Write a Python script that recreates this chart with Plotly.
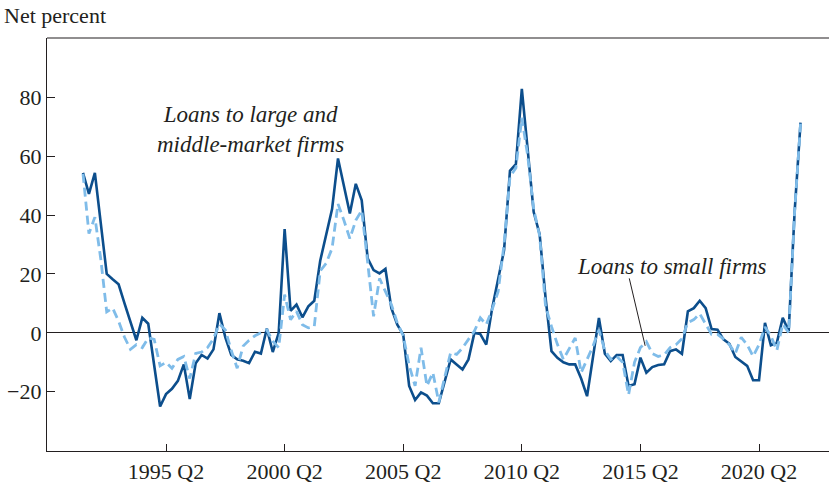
import plotly.graph_objects as go

# ---- data ----
start_year, start_q = 1991, 4
n_points = 122
quarters = []
y_, q_ = start_year, start_q
for _ in range(n_points):
    quarters.append(f"{y_} Q{q_}")
    q_ += 1
    if q_ > 4:
        q_ = 1
        y_ += 1

large_middle = [
    54.3, 47.2, 54.3, 37, 20, 18.2, 16.5, 10, 3.5, -2.5, 5.1, 3.1, -11, -25,
    -20.8, -19, -16.3, -10.7, -22.5, -10.3, -7.5, -8.7, -5.6, 6.7, -1.5, -7.5, -9, -9.5, -10.3, -6.4, -7, 1.5, -6.5, 0,
    35.2, 7.5, 9.6, 5.3, 9.0, 10.9, 24.5, 33, 42, 59.2, 50, 40.5, 50.6, 45, 25.3, 21.3, 20.2, 21.7, 8.4, 2.8,
    -0.6, -18, -22.8, -20.2, -21.3, -23.9, -23.9, -16.9, -9, -10.7, -12.4, -9, 0, -0.4, -4, 8.4, 18, 28, 55, 57.3,
    82.8, 62, 41, 33.5, 12, -6.2, -8.5, -10, -10.7, -10.7, -15.5, -21.5, -8, 5.1, -7.1, -9.6, -7.5, -7.5, -18, -17.4,
    -8.4, -13.5, -11.6, -10.9, -10.7, -6.2, -5.6, -7.1, 7.3, 8.4, 10.9, 8.4, 1.3, 1.1, -2.2, -3.7, -8.2, -9.8, -11.2, -16.1,
    -16.1, 3.4, -4.2, -3.4, 5.1, 0.6, 41, 71.4,
]

small = [
    54, 33.7, 39.3, 25, 7.1, 8.4, 4, -1.5, -5.6, -4, -5, -1.7, -2.2, -11.2,
    -10, -12, -9, -8, -15.5, -7, -6.5, -5, -2, 3, 1, -6, -12, -4.5, -2.5, -1, 0, 1, -2.8, -5,
    13, 4.5, 7.3, 2.8, 1.7, 2.2, 21, 23.6, 28.7, 43.8, 38.2, 32, 38.2, 41.6, 24, 5.6, 18.5, 14, 9.6, 3.4,
    -1, -11, -18, -5, -18, -13.5, -23.6, -15, -6.7, -7.3, -5.1, -2.2, 0.6, 5.1, 2.8, 8, 14, 30, 53, 56,
    73, 60, 42, 33, 9, 2.2, -3.9, -9, -5.6, -1.7, -13.5, -9, -4.5, 1, -6, -9, -8, -10, -21, -10,
    -5, -3, -7, -8, -7.5, -5, -4, -2, 3.5, 4.5, 6.5, 3, -0.5, -0.5, -2, -4, -7, -1.5, -4, -8,
    -4, 2, -1, -6, 3, 0, 41, 71,
]

tick_labels = ["1995 Q2", "2000 Q2", "2005 Q2", "2010 Q2", "2015 Q2", "2020 Q2"]
y_ticks = [-20, 0, 20, 40, 60, 80]


def qpos(label):
    yr, q = label.split(" Q")
    return int(yr) + (int(q) - 1) / 4.0


x = [qpos(q) for q in quarters]
tick_vals = [qpos(t) for t in tick_labels]

DARK = "#0c4e8c"
LIGHT = "#7fbce9"
FONT = "Liberation Serif"
TXT = "#231f20"

fig = go.Figure()
fig.add_trace(go.Scatter(x=x, y=large_middle, mode="lines",
                         line=dict(color=DARK, width=2.6), name="Large and middle-market"))
fig.add_trace(go.Scatter(x=x, y=small, mode="lines",
                         line=dict(color=LIGHT, width=2.8, dash="9px,5px"), name="Small"))

fig.update_layout(
    width=830, height=485,
    margin=dict(l=47, r=1, t=38, b=31),
    paper_bgcolor="white", plot_bgcolor="white",
    showlegend=False,
    font=dict(family=FONT, size=22, color=TXT),
    xaxis=dict(
        range=[1990.232, 2023.2],
        tickmode="array", tickvals=tick_vals, ticktext=tick_labels,
        ticks="inside", ticklen=7, tickcolor="#231f20", tickwidth=1,
        showline=True, linecolor="#231f20", linewidth=1.2,
        showgrid=False, zeroline=False,
        tickfont=dict(family=FONT, size=22, color=TXT),
    ),
    yaxis=dict(
        range=[-40.1, 100.1],
        tickmode="array", tickvals=y_ticks,
        ticks="inside", ticklen=8, tickcolor="#231f20", tickwidth=1,
        showline=True, linecolor="#231f20", linewidth=1.2,
        showgrid=False,
        zeroline=True, zerolinecolor="#231f20", zerolinewidth=1,
        tickfont=dict(family=FONT, size=22, color=TXT),
    ),
    annotations=[
        dict(text="Net percent", xref="paper", yref="paper",
             x=-0.058, y=1.02, xanchor="left", yanchor="bottom", showarrow=False,
             font=dict(family=FONT, size=22, color=TXT)),
        dict(text="<i>Loans to large and<br>middle-market firms</i>", xref="x", yref="y",
             x=1998.8, y=69, xanchor="center", yanchor="middle", showarrow=False,
             font=dict(family=FONT, size=23, color=TXT)),
        dict(text="<i>Loans to small firms</i>", xref="x", yref="y",
             x=2016.58, y=22.6, xanchor="center", yanchor="middle", showarrow=False,
             font=dict(family=FONT, size=23, color=TXT)),
    ],
    shapes=[
        dict(type="line", xref="paper", yref="paper", x0=0, y0=1, x1=1, y1=1,
             line=dict(color="#231f20", width=1.2)),
        dict(type="line", xref="x", yref="y", x0=2014.78, y0=18.5, x1=2015.45, y1=-4.4,
             line=dict(color="#231f20", width=1)),
    ],
)

fig.write_html("out.html", config={"displayModeBar": False},
               post_script="document.body.style.margin='0';document.body.style.overflow='hidden';")
